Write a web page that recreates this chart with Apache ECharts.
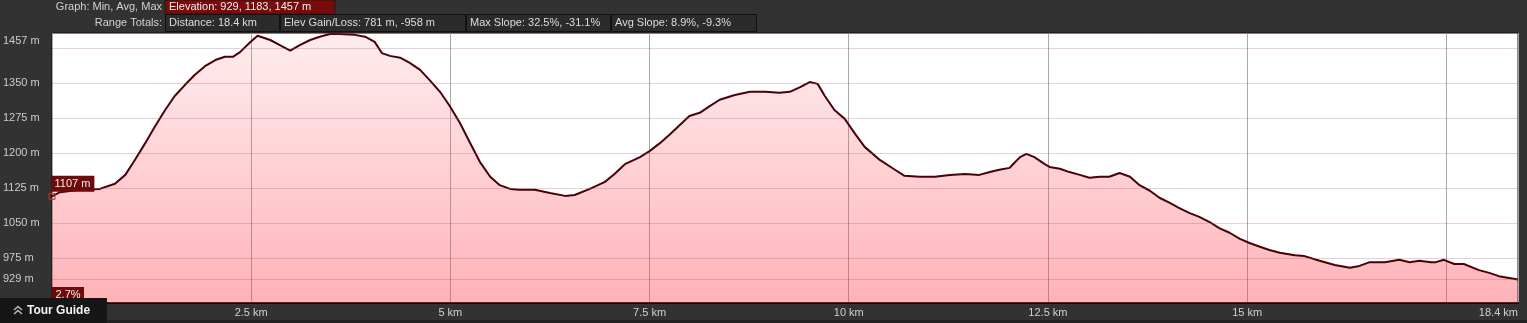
<!DOCTYPE html>
<html>
<head>
<meta charset="utf-8">
<script src="https://cdn.jsdelivr.net/npm/echarts@6/dist/echarts.min.js"></script>
<style>
html,body{margin:0;padding:0;background:#323232;}
#c{width:1527px;height:323px;}
</style>
</head>
<body>
<div id="c"></div>
<script>
// Distance along the route (km)
const distKm = [0,0.10,0.35,0.60,0.79,0.92,1.04,1.17,1.29,1.42,1.54,1.67,1.79,1.92,2.05,2.17,2.27,2.36,2.48,2.58,2.74,2.86,2.99,3.11,3.24,3.36,3.49,3.61,3.80,3.93,4.05,4.14,4.24,4.37,4.49,4.62,4.74,4.87,4.99,5.12,5.24,5.37,5.50,5.62,5.75,5.87,6.06,6.25,6.44,6.56,6.75,6.94,7.06,7.19,7.38,7.50,7.63,7.75,7.88,8.00,8.13,8.26,8.38,8.57,8.76,8.95,9.13,9.26,9.39,9.51,9.61,9.70,9.82,9.95,10.08,10.20,10.39,10.58,10.70,10.89,11.08,11.27,11.46,11.64,11.77,11.89,12.02,12.08,12.15,12.23,12.33,12.46,12.52,12.65,12.77,12.90,13.02,13.15,13.27,13.40,13.53,13.65,13.78,13.90,14.03,14.15,14.28,14.40,14.53,14.65,14.78,14.91,15.03,15.16,15.28,15.41,15.60,15.72,15.91,16.10,16.29,16.41,16.54,16.73,16.91,17.04,17.16,17.31,17.37,17.47,17.60,17.72,17.91,18.04,18.16,18.4];
// Elevation (m)
const elevM = [1107,1116,1121,1123,1134,1153,1185,1221,1256,1292,1322,1346,1367,1386,1399,1406,1406,1416,1436,1451,1442,1431,1419,1431,1442,1449,1455,1455,1453,1449,1438,1414,1408,1404,1393,1378,1356,1331,1301,1264,1224,1181,1149,1131,1123,1121,1121,1114,1108,1110,1123,1138,1155,1176,1191,1204,1221,1239,1260,1279,1286,1301,1314,1324,1331,1331,1329,1331,1341,1352,1348,1322,1292,1273,1241,1213,1185,1164,1151,1149,1149,1153,1155,1153,1159,1164,1168,1179,1191,1198,1191,1176,1170,1166,1159,1153,1147,1149,1149,1157,1149,1131,1119,1104,1093,1082,1071,1063,1052,1039,1029,1016,1007,999,992,986,981,979,969,960,954,958,966,966,971,966,969,966,966,971,962,962,949,943,936,929];
// Axis values
const yGridValues = [929, 975, 1050, 1125, 1200, 1275, 1350, 1425, 1457];
const yLabelValues = [929, 975, 1050, 1125, 1200, 1275, 1350, 1457];
const xHiddenLabels = [0, 17.5];
// Header texts
const headerRow1Label = 'Graph: Min, Avg, Max';
const headerRow1Value = 'Elevation: 929, 1183, 1457 m';
const headerRow2Label = 'Range Totals:';
const headerRow2Values = ['Distance: 18.4 km', 'Elev Gain/Loss: 781 m, -958 m', 'Max Slope: 32.5%, -31.1%', 'Avg Slope: 8.9%, -9.3%'];
const startSlopeText = '2.7%';
const tourGuideText = 'Tour Guide';

const FONT = '"Liberation Sans", Arial, sans-serif';
const seriesData = distKm.map((d, i) => [d, elevM[i]]);

const boxX = [165, 280, 466, 611, 757];
const graphics = [];
// row 1
graphics.push({type:'text', x:162, y:7, style:{text:headerRow1Label, fill:'#d2d2d2', font:'11px ' + FONT, align:'right', verticalAlign:'middle'}});
graphics.push({type:'rect', shape:{x:165, y:0, width:170, height:14}, style:{fill:'#7a0b0b', stroke:'#1a1a1a', lineWidth:1}});
graphics.push({type:'text', x:169, y:7, style:{text:headerRow1Value, fill:'#eeeeee', font:'11px ' + FONT, verticalAlign:'middle'}});
// row 2
graphics.push({type:'text', x:162, y:23, style:{text:headerRow2Label, fill:'#d2d2d2', font:'11px ' + FONT, align:'right', verticalAlign:'middle'}});
headerRow2Values.forEach((t, i) => {
  graphics.push({type:'rect', shape:{x:boxX[i] + 0.5, y:14.5, width:boxX[i+1] - boxX[i] - 1, height:17}, style:{fill:'#2b2b2b', stroke:'#121212', lineWidth:1}});
  graphics.push({type:'text', x:boxX[i] + 4, y:23, style:{text:t, fill:'#dddddd', font:'11px ' + FONT, verticalAlign:'middle'}});
});
// slope box
graphics.push({type:'rect', z:100, shape:{x:52, y:287, width:32, height:15}, style:{fill:'#6e0a0a'}});
graphics.push({type:'text', z:101, x:68, y:295, style:{text:startSlopeText, fill:'#eeeeee', font:'11px ' + FONT, align:'center', verticalAlign:'middle'}});
// tour guide tab
graphics.push({type:'rect', z:100, shape:{x:0, y:298, width:107, height:25}, style:{fill:'#161616'}});
graphics.push({type:'polyline', z:101, shape:{points:[[14,310],[18,306.5],[22,310]]}, style:{stroke:'#bbbbbb', lineWidth:1.5, fill:null}});
graphics.push({type:'polyline', z:101, shape:{points:[[14,314],[18,310.5],[22,314]]}, style:{stroke:'#bbbbbb', lineWidth:1.5, fill:null}});
graphics.push({type:'text', z:101, x:27, y:311, style:{text:tourGuideText, fill:'#f2f2f2', font:'bold 12px ' + FONT, verticalAlign:'middle'}});
// bottom dark strip
graphics.push({type:'rect', z:-1, shape:{x:0, y:320, width:1527, height:3}, style:{fill:'#222222'}});

const chart = echarts.init(document.getElementById('c'), null, {renderer:'canvas'});
chart.setOption({
  animation: false,
  backgroundColor: '#323232',
  grid: {left:52, right:9, top:33, bottom:20, show:true, backgroundColor:'#ffffff', borderColor:'#111111', borderWidth:1},
  xAxis: {
    type:'value', min:0, max:18.4, interval:2.5,
    axisLine:{show:true, onZero:false, lineStyle:{color:'#0a0a0a', width:2}},
    axisTick:{show:false},
    splitLine:{show:true, lineStyle:{color:'#a8a8a8', width:1}},
    axisLabel:{
      color:'#d0d0d0', fontSize:11, fontFamily:FONT, margin:4,
      showMinLabel:true, showMaxLabel:true, alignMaxLabel:'right',
      formatter: v => xHiddenLabels.some(h => Math.abs(h - v) < 1e-6) ? '' : (v + ' km')
    }
  },
  yAxis: {
    type:'value', min:878.5, max:1457,
    axisLine:{show:false}, axisTick:{show:false}, splitLine:{show:false},
    axisLabel:{
      show:true, customValues: yLabelValues, color:'#cccccc', fontSize:11, fontFamily:FONT,
      align:'left', margin:49,
      formatter: v => v === 1457 ? '{top|' + v + ' m}' : v + ' m',
      rich:{top:{fontSize:11, fontFamily:FONT, color:'#cccccc', padding:[16,0,0,0]}}
    }
  },
  series: [{
    type:'line',
    data: seriesData,
    showSymbol:false,
    smooth:false,
    lineStyle:{color:'#4a0008', width:2},
    areaStyle:{
      color: new echarts.graphic.LinearGradient(0, 0, 0, 1, [
        {offset:0, color:'rgba(245,100,115,0.18)'},
        {offset:0.55, color:'rgba(250,70,85,0.38)'},
        {offset:1, color:'rgba(255,55,70,0.55)'}
      ])
    },
    markLine:{
      silent:true, symbol:['none','none'], animation:false,
      label:{show:false},
      lineStyle:{color:'rgba(170,90,100,0.28)', type:'solid', width:1},
      data: yGridValues.map(v => ({yAxis:v}))
    },
    markPoint:{
      silent:true, animation:false,
      symbol:'rect', symbolSize:6,
      itemStyle:{color:'rgba(255,255,255,0)', borderColor:'#cc2a2a', borderWidth:1},
      label:{
        show:true, position:[3,-17], color:'#eeeeee', fontSize:11, fontFamily:FONT,
        backgroundColor:'#6e0a0a', padding:[2,4,2,3], lineHeight:12,
        formatter: p => p.value + ' m'
      },
      data:[{coord:[distKm[0], elevM[0]], value:elevM[0]}]
    }
  }],
  graphic: graphics
});
</script>
</body>
</html>
